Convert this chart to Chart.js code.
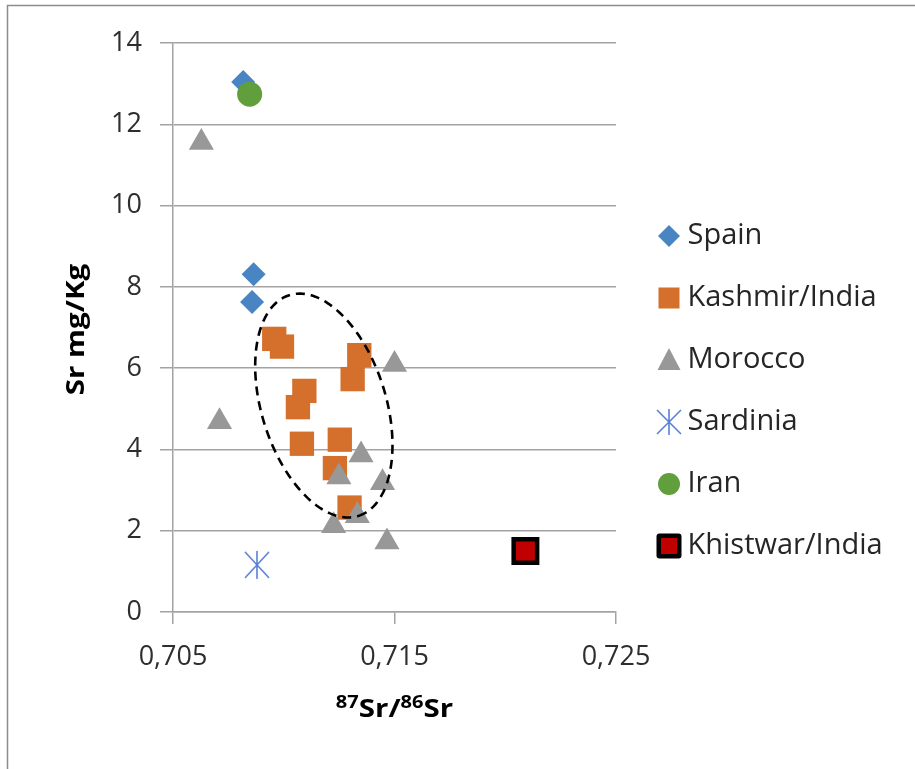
<!DOCTYPE html>
<html>
<head>
<meta charset="utf-8">
<script src="https://cdn.jsdelivr.net/npm/chart.js@4.4.1/dist/chart.umd.min.js"></script>
<style>
  html, body { margin: 0; padding: 0; background: #ffffff; }
  canvas { display: block; }
</style>
</head>
<body>
<canvas id="chart" width="915" height="769"></canvas>
<script>
// ---- data ----------------------------------------------------------------
const seriesNames = ['Spain', 'Kashmir/India', 'Morocco', 'Sardinia', 'Iran', 'Khistwar/India'];

const spainRatio = [0.70817, 0.70864, 0.70857];
const spainSr    = [13.04, 8.31, 7.63];

const kashmirRatio = [0.70957, 0.70992, 0.71341, 0.71311, 0.71093, 0.71064, 0.71082, 0.71253, 0.71231, 0.71297];
const kashmirSr    = [6.72, 6.53, 6.32, 5.73, 5.44, 5.04, 4.14, 4.24, 3.54, 2.57];

const moroccoRatio = [0.70628, 0.70710, 0.71500, 0.71349, 0.71249, 0.71446, 0.71332, 0.71225, 0.71466];
const moroccoSr    = [11.55, 4.68, 6.09, 3.86, 3.32, 3.18, 2.37, 2.12, 1.72];

const sardiniaRatio = [0.70879];
const sardiniaSr    = [1.16];

const iranRatio = [0.70846];
const iranSr    = [12.74];

const khistwarRatio = [0.72091];
const khistwarSr    = [1.50];

const xTickValues = [0.705, 0.715, 0.725];
const yTickValues = [0, 2, 4, 6, 8, 10, 12, 14];

// dashed outline around the Kashmir cluster (centre and half-axes in data units)
const clusterOutline = {
  center: [0.71181, 5.08],
  major:  [0.001558, -2.716],
  minor:  [0.002679, 0.456]
};

// ---- helpers -------------------------------------------------------------
const zip = (xs, ys) => xs.map((x, i) => ({ x: x, y: ys[i] }));

function makeIcon(w, h, draw) {
  const c = document.createElement('canvas');
  c.width = w; c.height = h;
  draw(c.getContext('2d'), w / 2, h / 2);
  return c;
}

const COLORS = {
  spain: '#4a85c3',
  kashmir: '#d4702b',
  morocco: '#989898',
  sardinia: '#5a80d2',
  iran: '#619f3d',
  khistwar: '#c00000'
};

function asterisk(rx, ry, vy, lw) {
  return makeIcon(2 * rx + 6, 2 * vy + 6, (g, cx, cy) => {
    g.strokeStyle = COLORS.sardinia;
    g.lineWidth = lw;
    g.beginPath();
    g.moveTo(cx, cy - vy); g.lineTo(cx, cy + vy);
    g.moveTo(cx - rx, cy - ry); g.lineTo(cx + rx, cy + ry);
    g.moveTo(cx + rx, cy - ry); g.lineTo(cx - rx, cy + ry);
    g.stroke();
  });
}

const sardiniaMarker = asterisk(12, 13, 14, 1.6);

// legend swatches
const legendIcons = [
  makeIcon(26, 26, (g, cx, cy) => {
    g.fillStyle = COLORS.spain; g.beginPath();
    g.moveTo(cx, cy - 11); g.lineTo(cx + 11, cy); g.lineTo(cx, cy + 11); g.lineTo(cx - 11, cy);
    g.closePath(); g.fill();
  }),
  makeIcon(24, 24, (g, cx, cy) => {
    g.fillStyle = COLORS.kashmir; g.fillRect(cx - 10.5, cy - 10.5, 21, 21);
  }),
  makeIcon(26, 26, (g, cx, cy) => {
    g.fillStyle = COLORS.morocco; g.beginPath();
    g.moveTo(cx, cy - 12); g.lineTo(cx + 11.5, cy + 10); g.lineTo(cx - 11.5, cy + 10);
    g.closePath(); g.fill();
  }),
  asterisk(12, 12, 13, 1.6),
  makeIcon(26, 26, (g, cx, cy) => {
    g.fillStyle = COLORS.iran; g.beginPath(); g.arc(cx, cy, 11, 0, Math.PI * 2); g.fill();
  }),
  makeIcon(28, 28, (g, cx, cy) => {
    g.fillStyle = '#000'; g.beginPath();
    if (g.roundRect) { g.roundRect(cx - 12.5, cy - 12.5, 25, 25, 3); } else { g.rect(cx - 12.5, cy - 12.5, 25, 25); }
    g.fill();
    g.fillStyle = COLORS.khistwar; g.fillRect(cx - 8, cy - 8, 16, 16);
  })
];

// ---- plugins -------------------------------------------------------------
const framePlugin = {
  id: 'frame',
  beforeDraw(chart) {
    const ctx = chart.ctx;
    ctx.save();
    ctx.fillStyle = '#ffffff';
    ctx.fillRect(0, 0, chart.width, chart.height);
    ctx.strokeStyle = '#8c8c8c';
    ctx.lineWidth = 1.5;
    ctx.beginPath();
    ctx.moveTo(7.5, chart.height);
    ctx.lineTo(7.5, 5.5);
    ctx.lineTo(chart.width, 5.5);
    ctx.stroke();
    ctx.restore();
  }
};

const legendShiftPlugin = {
  id: 'legendShift',
  afterLayout(chart) {
    const lg = chart.legend;
    if (lg) { lg.left += 16; lg.right += 16; lg.top += 2; lg.bottom += 2; }
  }
};

const outlinePlugin = {
  id: 'clusterOutline',
  afterDatasetsDraw(chart) {
    const { ctx, scales: { x, y } } = chart;
    const o = clusterOutline;
    ctx.save();
    ctx.beginPath();
    const n = 240;
    for (let k = 0; k <= n; k++) {
      const t = (k / n) * Math.PI * 2;
      const vx = o.center[0] + o.major[0] * Math.cos(t) + o.minor[0] * Math.sin(t);
      const vy = o.center[1] + o.major[1] * Math.cos(t) + o.minor[1] * Math.sin(t);
      const px = x.getPixelForValue(vx), py = y.getPixelForValue(vy);
      if (k === 0) ctx.moveTo(px, py); else ctx.lineTo(px, py);
    }
    ctx.closePath();
    ctx.setLineDash([9, 6]);
    ctx.lineWidth = 2.6;
    ctx.strokeStyle = '#000000';
    ctx.stroke();
    ctx.restore();
  }
};

// axis titles, drawn slightly widened
const titlePlugin = {
  id: 'axisTitles',
  afterDraw(chart) {
    const ctx = chart.ctx;
    const area = chart.chartArea;
    const widen = 1.18;
    const main = 'bold 25px "Open Sans"';
    const sup = 'bold 17px "Open Sans"';
    ctx.save();
    ctx.fillStyle = '#000000';
    ctx.textBaseline = 'alphabetic';

    // x title: 87Sr/86Sr
    const parts = [
      { t: '87', f: sup, dy: -9 },
      { t: 'Sr/', f: main, dy: 0 },
      { t: '86', f: sup, dy: -9 },
      { t: 'Sr', f: main, dy: 0 }
    ];
    let total = 0;
    parts.forEach(p => { ctx.font = p.f; p.w = ctx.measureText(p.t).width; total += p.w; });
    ctx.save();
    ctx.translate((area.left + area.right) / 2, 717);
    ctx.scale(widen, 1);
    let cx = -total / 2;
    parts.forEach(p => { ctx.font = p.f; ctx.fillText(p.t, cx, p.dy); cx += p.w; });
    ctx.restore();

    // y title
    ctx.save();
    ctx.translate(84, (area.top + area.bottom) / 2 + 2);
    ctx.rotate(-Math.PI / 2);
    ctx.scale(widen, 1);
    ctx.font = main;
    ctx.textAlign = 'center';
    ctx.fillText('Sr mg/Kg', 0, 0);
    ctx.restore();

    ctx.restore();
  }
};

// ---- chart ---------------------------------------------------------------
const tickFont = { family: 'Open Sans', size: 27 };
const gridColor = '#a3a3a3';

const datasets = [
  { label: seriesNames[0], data: zip(spainRatio, spainSr), pointStyle: 'rectRot', pointRadius: 12,
    backgroundColor: COLORS.spain, borderColor: COLORS.spain, borderWidth: 0, order: 6 },
  { label: seriesNames[1], data: zip(kashmirRatio, kashmirSr), pointStyle: 'rect', pointRadius: 17.2,
    backgroundColor: COLORS.kashmir, borderColor: COLORS.kashmir, borderWidth: 0, order: 5 },
  { label: seriesNames[2], data: zip(moroccoRatio, moroccoSr), pointStyle: 'triangle', pointRadius: 14.5,
    backgroundColor: COLORS.morocco, borderColor: COLORS.morocco, borderWidth: 0, order: 4 },
  { label: seriesNames[3], data: zip(sardiniaRatio, sardiniaSr), pointStyle: sardiniaMarker, pointRadius: 14,
    backgroundColor: COLORS.sardinia, borderColor: COLORS.sardinia, borderWidth: 0, order: 3 },
  { label: seriesNames[4], data: zip(iranRatio, iranSr), pointStyle: 'circle', pointRadius: 12.5,
    backgroundColor: COLORS.iran, borderColor: COLORS.iran, borderWidth: 0, order: 2 },
  { label: seriesNames[5], data: zip(khistwarRatio, khistwarSr), pointStyle: 'rect', pointRadius: 16.6,
    backgroundColor: COLORS.khistwar, borderColor: '#000000', borderWidth: 4.5, order: 1 }
];
datasets.forEach(d => { d.pointHoverRadius = d.pointRadius; d.pointHoverBorderWidth = d.borderWidth; });

new Chart(document.getElementById('chart'), {
  type: 'scatter',
  data: { datasets: datasets },
  plugins: [framePlugin, legendShiftPlugin, outlinePlugin, titlePlugin],
  options: {
    responsive: false,
    animation: false,
    devicePixelRatio: 1,
    layout: { padding: { top: 43, bottom: 34, left: 0, right: 49 } },
    plugins: {
      tooltip: { enabled: false },
      legend: {
        position: 'right',
        maxWidth: 250,
        labels: {
          usePointStyle: true,
          pointStyleWidth: 8,
          padding: 33,
          color: '#262626',
          font: { family: 'Open Sans', size: 29 },
          generateLabels(chart) {
            return chart.data.datasets.map((ds, i) => ({
              text: ds.label,
              datasetIndex: i,
              pointStyle: legendIcons[i],
              fillStyle: ds.backgroundColor,
              strokeStyle: ds.borderColor,
              lineWidth: 0,
              hidden: false,
              fontColor: '#262626'
            }));
          }
        }
      }
    },
    scales: {
      x: {
        type: 'linear',
        position: 'bottom',
        min: 0.705,
        max: 0.725,
        afterBuildTicks(scale) { scale.ticks = xTickValues.map(v => ({ value: v })); },
        afterFit(scale) { scale.height = 123; },
        ticks: {
          autoSkip: false,
          maxRotation: 0,
          padding: 17,
          color: '#2e2e2e',
          font: tickFont,
          callback: v => v.toFixed(3).replace('.', ',')
        },
        grid: { drawOnChartArea: false, tickLength: 12, color: gridColor, lineWidth: 1.5 },
        border: { color: gridColor, width: 1.5 }
      },
      y: {
        type: 'linear',
        min: 0,
        max: 14,
        afterBuildTicks(scale) { scale.ticks = yTickValues.map(v => ({ value: v })); },
        afterFit(scale) { scale.width = 173; },
        ticks: {
          padding: 18,
          color: '#2e2e2e',
          font: tickFont,
          callback: v => String(v)
        },
        grid: { tickLength: 13, color: gridColor, lineWidth: 1.5 },
        border: { color: gridColor, width: 1.5 }
      }
    }
  }
});
</script>
</body>
</html>
